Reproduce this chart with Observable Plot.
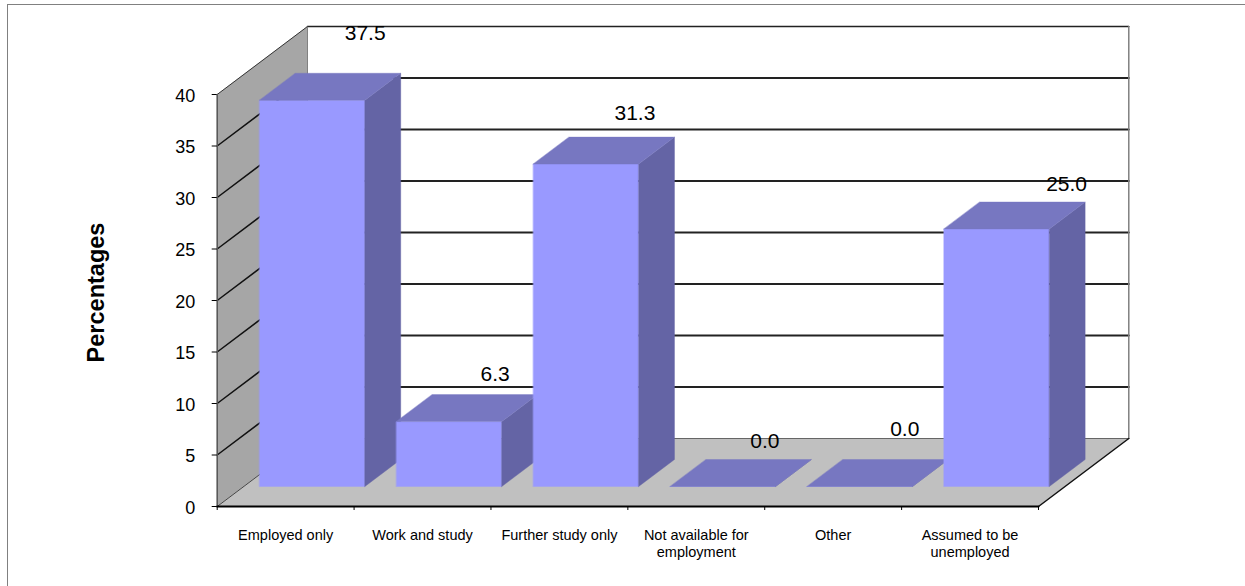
<!DOCTYPE html>
<html>
<head>
<meta charset="utf-8">
<script src="https://cdn.jsdelivr.net/npm/d3@7"></script>
<script src="https://cdn.jsdelivr.net/npm/@observablehq/plot@0.6"></script>
<style>
html, body { margin: 0; padding: 0; background: #fff; overflow: hidden; }
#frame { position: absolute; left: 7px; top: 3.5px; width: 1238px; height: 583px; border-top: 1.5px solid #808080; border-left: 1.5px solid #808080; box-sizing: border-box; }
#chart { position: absolute; left: 0; top: 0; }
</style>
</head>
<body>
<div id="frame"></div>
<div id="chart"></div>
<script>
const categories = ["Employed only", "Work and study", "Further study only", "Not available for\nemployment", "Other", "Assumed to be\nunemployed"];
const percentages = [37.5, 6.3, 31.3, 0.0, 0.0, 25.0];
const yTicks = [0, 5, 10, 15, 20, 25, 30, 35, 40];
const gridValues = [5, 10, 15, 20, 25, 30, 35];
const axisTitle = "Percentages";

// layout of the oblique projection, in scale units
const depthX = 90.3 / 136.9;   // category widths per full depth
const depthY = 68 / 10.3;      // value units per full depth
const barFront = 0.294, barBack = 0.691, barInset = 0.115, barWidth = 0.77;
const labelDx = [53, 46, 49, 42, 45, 70];
const labelDy = [-67, -47, -51, -45, -57, -45];

const pt = (u, v, d = 0) => ({x: u + d * depthX, y: v + d * depthY});
const face = (corners, fill) => Plot.line(corners, {x: "x", y: "y", fill, stroke: fill, strokeWidth: 0.4, curve: "linear-closed"});
const edge = (a, b, stroke, strokeWidth) => Plot.line([a, b], {x: "x", y: "y", stroke, strokeWidth});
const n = categories.length;
const fontFamily = "Liberation Sans";

const barMarks = percentages.flatMap((v, i) => {
  const a = i + barInset, b = a + barWidth;
  return [
    face([pt(a, 0, barFront), pt(b, 0, barFront), pt(b, v, barFront), pt(a, v, barFront)], "#9999ff"),
    face([pt(b, 0, barFront), pt(b, 0, barBack), pt(b, v, barBack), pt(b, v, barFront)], "#6464a5"),
    face([pt(a, v, barFront), pt(b, v, barFront), pt(b, v, barBack), pt(a, v, barBack)], "#7777c1")
  ];
});

const labelMarks = percentages.map((v, i) => Plot.text([{...pt(i + barInset + barWidth / 2, v, barFront), text: v.toFixed(1)}], {
  x: "x", y: "y", text: "text", dx: labelDx[i], dy: labelDy[i], fontSize: 21, fontFamily, fill: "#000"
}));

const chart = Plot.plot({
  width: 1245,
  height: 586,
  marginLeft: 216.7,
  marginRight: 207,
  marginTop: 94,
  marginBottom: 80,
  x: {type: "linear", domain: [0, n], axis: null},
  y: {type: "linear", domain: [0, 40], axis: null},
  marks: [
    // left wall and floor
    face([pt(0, 0), pt(0, 40), pt(0, 40, 1), pt(0, 0, 1)], "#a6a6a6"),
    face([pt(0, 0), pt(n, 0), pt(n, 0, 1), pt(0, 0, 1)], "#c0c0c0"),
    // back wall grid and wall outline
    ...gridValues.map(v => edge(pt(0, v, 1), pt(n, v, 1), "#222", 2)),
    edge(pt(0, 40, 1), pt(n, 40, 1), "#222", 1.5),
    edge(pt(0, 0, 1), pt(n, 0, 1), "#666", 1),
    edge(pt(n, 0, 1), pt(n, 40, 1), "#808080", 1.5),
    edge(pt(0, 0, 1), pt(0, 40, 1), "#808080", 1),
    // left wall grid
    ...gridValues.map(v => edge(pt(0, v), pt(0, v, 1), "#111", 1.5)),
    edge(pt(0, 40), pt(0, 40, 1), "#333", 1),
    edge(pt(0, 0), pt(0, 0, 1), "#444", 1),
    // floor right edge
    edge(pt(n, 0), pt(n, 0, 1), "#111", 1.5),
    // bars
    ...barMarks,
    // axes
    edge(pt(0, 0), pt(0, 40), "#555", 1.5),
    edge(pt(0, 0), pt(n, 0), "#000", 2),
    Plot.axisY(yTicks, {tickSize: 5, tickFormat: () => "", label: null}),
    Plot.text(yTicks, {x: 0, y: d => d, text: d => String(d), dx: -22, dy: 1.5, textAnchor: "end", fontSize: 18, fontFamily, fill: "#000"}),
    Plot.axisX(d3.range(n + 1), {tickSize: 4, tickFormat: () => "", label: null}),
    Plot.text(categories, {x: (d, i) => i + 0.5, y: 0, text: d => d, dy: 21, lineAnchor: "top", lineHeight: 1.2, fontSize: 14.5, fontFamily, fill: "#000"}),
    ...labelMarks,
    Plot.text([axisTitle], {y: [20], frameAnchor: "left", textAnchor: "middle", dx: -121, dy: -8, rotate: -90, fontSize: 23.5, fontWeight: "bold", fontFamily, fill: "#000"})
  ]
});
document.getElementById("chart").append(chart);
</script>
</body>
</html>
